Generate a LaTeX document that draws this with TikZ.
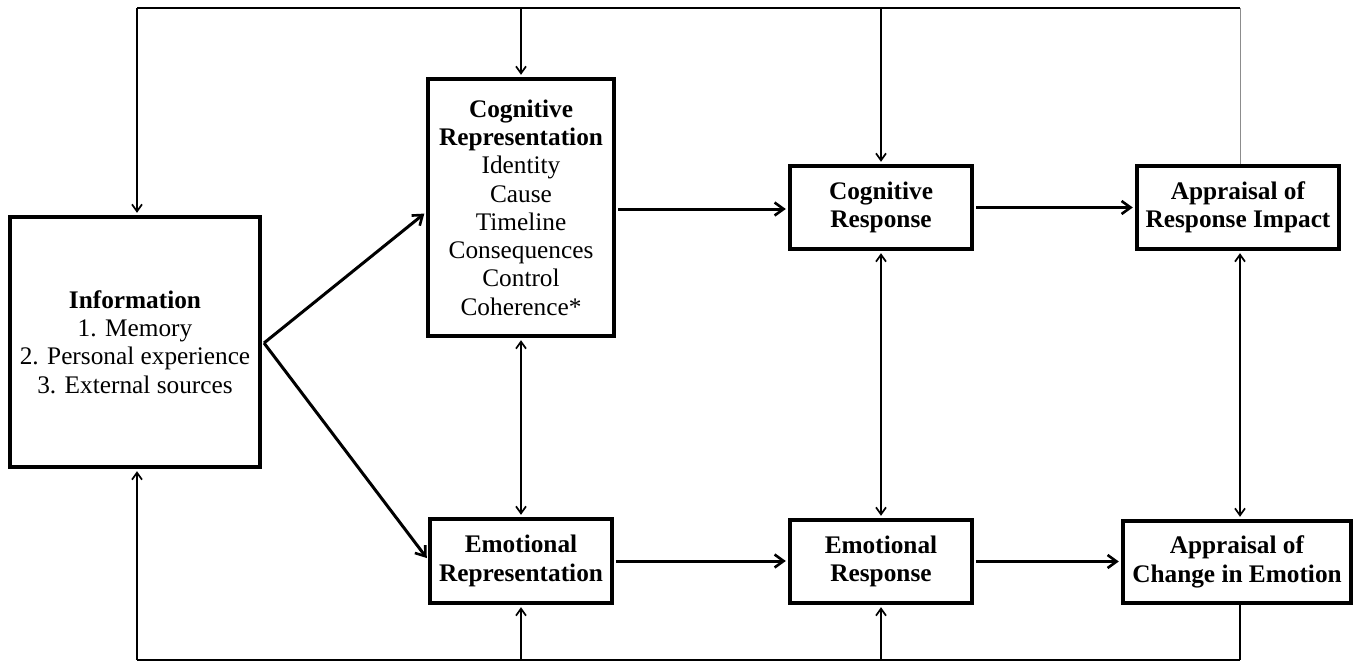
\documentclass[tikz,border=0pt]{standalone}
\usepackage{fontspec}
\setmainfont{Liberation Serif}
\usetikzlibrary{arrows.meta}
\begin{document}
\begin{tikzpicture}[x=1pt,y=-1pt,
  box/.style={draw, line width=3.4pt, align=center, inner sep=0pt,
    font=\fontsize{25.3}{28.3}\selectfont},
  fb/.style={line width=1.7pt},
  fbarrow/.style={fb, -{Straight Barb[length=7pt,width=10pt,line width=1.7pt]}, shorten >=2.5pt},
  fbboth/.style={fb, {Straight Barb[length=7pt,width=10pt,line width=1.7pt]}-{Straight Barb[length=7pt,width=10pt,line width=1.7pt]}, shorten >=2.5pt, shorten <=2.5pt},
  flow/.style={line width=3pt, -{Straight Barb[length=9pt,width=13pt,line width=2.6pt]}, shorten >=2.5pt},
  greyline/.style={line width=1pt, draw=black!45}
]
\useasboundingbox (0,0) rectangle (1363,662);

\node[box, minimum width=250, minimum height=250] (info) at (135,342)
  {\textbf{Information}\\1. Memory\\2. Personal experience\\3. External sources};
\node[box, minimum width=186, minimum height=257] (cr) at (521,207.5)
  {\textbf{Cognitive}\\\textbf{Representation}\\Identity\\Cause\\Timeline\\Consequences\\Control\\Coherence*};
\node[box, minimum width=182, minimum height=83] (cresp) at (881,207.5)
  {\textbf{Cognitive}\\\textbf{Response}};
\node[box, minimum width=202, minimum height=83] (ari) at (1238,207.5)
  {\textbf{Appraisal of}\\\textbf{Response Impact}};
\node[box, minimum width=182, minimum height=84] (er) at (521,561)
  {\textbf{Emotional}\\\textbf{Representation}};
\node[box, minimum width=182, minimum height=83] (eresp) at (881,561.5)
  {\textbf{Emotional}\\\textbf{Response}};
\node[box, minimum width=228, minimum height=82] (ace) at (1237,562)
  {\textbf{Appraisal of}\\\textbf{Change in Emotion}};

\coordinate (tl) at (137,8);
\coordinate (tr) at (1240,8);
\coordinate (bl) at (137,660);
\coordinate (br) at (1240,660);
\coordinate (io) at (264,343);

% top feedback line
\draw[fb] (tl) -- (tr);
\draw[fbarrow] (tl) -- (tl |- info.north);
\draw[fbarrow] (cr.north |- tl) -- (cr.north);
\draw[fbarrow] (cresp.north |- tl) -- (cresp.north);
\draw[greyline] (tr |- ari.north) -- (tr);

% bottom feedback line
\draw[fb] (bl) -- (br);
\draw[fbarrow] (bl) -- (bl |- info.south);
\draw[fbarrow] (er.south |- bl) -- (er.south);
\draw[fbarrow] (eresp.south |- bl) -- (eresp.south);
\draw[fb] (br |- ace.south) -- (br);

% vertical two-way arrows
\draw[fbboth] (cr.south) -- (er.north);
\draw[fbboth] (cresp.south) -- (eresp.north);
\draw[fbboth] (tr |- ari.south) -- (tr |- ace.north);

% main flow
\draw[flow] (io) -- (cr.west |- 0,212);
\draw[flow] (io) -- (er.west |- 0,560);
\draw[flow] ([xshift=2.5pt]cr.east |- 0,209) -- (cresp.west |- 0,209);
\draw[flow] ([xshift=2.5pt]cresp.east) -- (ari.west);
\draw[flow] ([xshift=2.5pt]er.east) -- (eresp.west |- er.east);
\draw[flow] ([xshift=2.5pt]eresp.east) -- (ace.west |- eresp.east);
\end{tikzpicture}
\end{document}
